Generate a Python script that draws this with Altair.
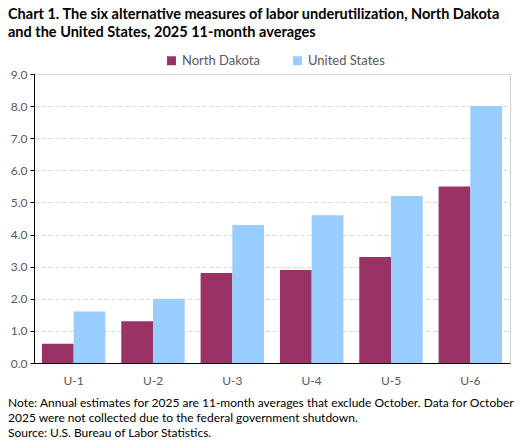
import altair as alt
import pandas as pd

# values
measures = ["U-1", "U-2", "U-3", "U-4", "U-5", "U-6"]
north_dakota = [0.6, 1.3, 2.8, 2.9, 3.3, 5.5]
united_states = [1.6, 2.0, 4.3, 4.6, 5.2, 8.0]
series = ["North Dakota", "United States"]
colors = ["#993366", "#99ccff"]
y_ticks = [0, 1, 2, 3, 4, 5, 6, 7, 8, 9]

title_lines = [
    "Chart 1. The six alternative measures of labor underutilization, North Dakota",
    "and the United States, 2025 11-month averages",
]
note_lines = [
    "Note:  Annual estimates for 2025 are 11-month averages that exclude October. Data for October",
    "2025 were not collected due to the federal government shutdown.",
    "Source: U.S. Bureau of Labor Statistics.",
]

FONT = "Lato"
GREY = "#595959"

df = pd.DataFrame({
    "measure": measures * 2,
    "area": [series[0]] * len(measures) + [series[1]] * len(measures),
    "rate": north_dakota + united_states,
})

bars = alt.Chart(df).mark_bar().encode(
    x=alt.X("measure:N", sort=measures, title=None,
            scale=alt.Scale(paddingInner=0.2, paddingOuter=0.1),
            axis=alt.Axis(labelAngle=0, ticks=False, domainColor="black",
                          labelPadding=12, labelFontSize=12, labelColor=GREY,
                          labelFont=FONT)),
    xOffset=alt.XOffset("area:N", sort=series),
    y=alt.Y("rate:Q", title=None, scale=alt.Scale(domain=[0, 9], nice=False),
            axis=alt.Axis(values=y_ticks, format=".1f", domainColor="black",
                          tickColor="black", tickSize=4, labelPadding=3,
                          labelFontSize=12, labelColor=GREY, labelFont=FONT,
                          gridColor="#d9d9d9", gridDash=[4, 3])),
    color=alt.Color("area:N", scale=alt.Scale(domain=series, range=colors),
                    legend=alt.Legend(orient="none", legendX=131, legendY=-20,
                                      direction="horizontal", title=None,
                                      symbolType="square", symbolSize=80,
                                      symbolStrokeWidth=0, columnPadding=31,
                                      labelFontSize=13, labelColor=GREY,
                                      labelFont=FONT)),
)

title = alt.Chart(pd.DataFrame({"t": [0]})).mark_text(
    align="left", baseline="alphabetic", font=FONT, fontSize=14.5,
    fontWeight="bold", color="black", lineHeight=18,
).encode(x=alt.value(-26), y=alt.value(-55), text=alt.value(title_lines))

note = alt.Chart(pd.DataFrame({"t": [0]})).mark_text(
    align="left", baseline="alphabetic", font=FONT, fontSize=12,
    color="black", lineHeight=15,
).encode(x=alt.value(-26), y=alt.value(333), text=alt.value(note_lines))

chart = alt.layer(bars, title, note).properties(
    width=476, height=289,
    autosize=alt.AutoSizeParams(type="none"),
    padding={"left": 26, "top": 66, "right": 9, "bottom": 77},
).configure_view(stroke="#d0d0d0")

chart.save("out.html", embed_options={"renderer": "svg", "actions": False})
